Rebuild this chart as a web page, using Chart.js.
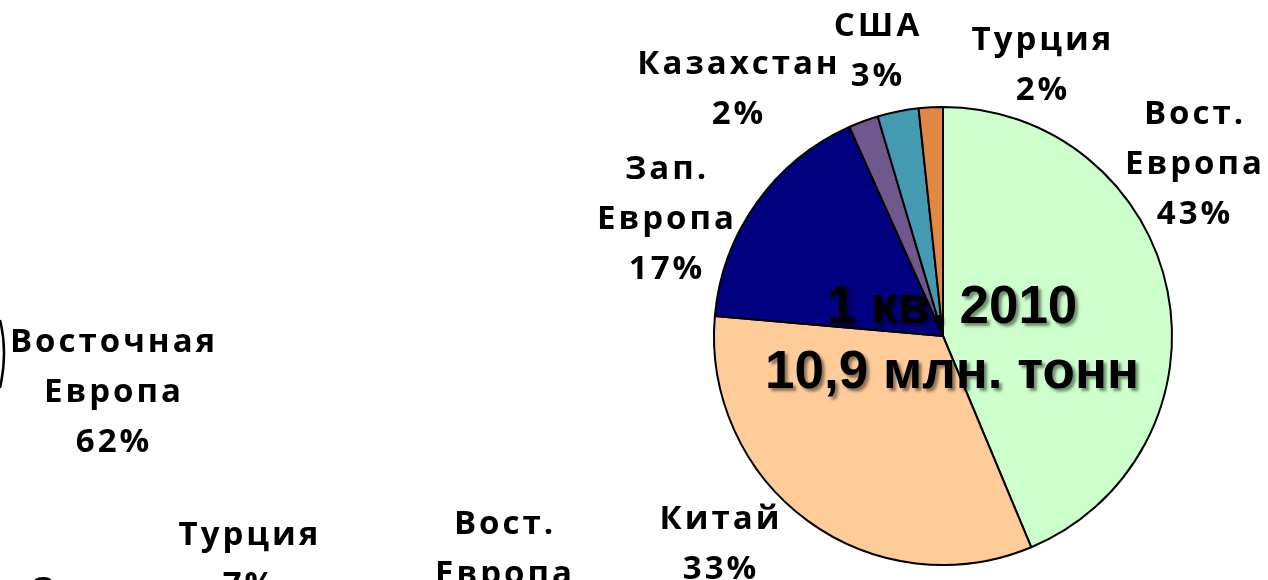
<!DOCTYPE html>
<html>
<head>
<meta charset="utf-8">
<script src="https://cdn.jsdelivr.net/npm/chart.js@4.4.1/dist/chart.umd.min.js"></script>
<style>
	html, body { margin: 0; padding: 0; background: #fff; }
	#wrap { width: 1268px; height: 580px; }
</style>
</head>
<body>
<div id="wrap"><canvas id="pieChart"></canvas></div>
<script>
// Структура по регионам, 1 кв. 2010
var regions = ['Вост. Европа', 'Китай', 'Зап. Европа', 'Казахстан', 'США', 'Турция'];
var nameLines = [['Вост.', 'Европа'], ['Китай'], ['Зап.', 'Европа'], ['Казахстан'], ['США'], ['Турция']];
var shares = [43.7, 32.7, 16.9, 2.1, 2.9, 1.7];
var pctLabels = ['43%', '33%', '17%', '2%', '3%', '2%'];
var centerTitle = ['1 кв. 2010', '10,9 млн. тонн'];

// Подписи соседней (обрезанной) диаграммы
var otherNames = [['Восточная', 'Европа'], ['Турция'], ['Вост.', 'Европа'], ['Зап.']];
var otherPct = ['62%', '7%', '', ''];

var sliceColors = ['#CCFFCC', '#FFCC99', '#000080', '#70588C', '#449AB0', '#E08844'];

// Смещения подписей от центра круга (первая строка)
var labelOffs = [[252, -224], [-222, 181], [-276, -169], [-204, -274], [-65, -312], [100, -298]];
var otherPos = [[114, 340], [250, 533], [505, 522], [75, 588]];

var LINE_H = 50;
var LABEL_FONT = 'bold 33px "Open Sans"';

function drawLines(ctx, lines, x, y) {
	for (var i = 0; i < lines.length; i++) {
		if (lines[i] === '') continue;
		ctx.fillText(lines[i], x, y + i * LINE_H + 12);
	}
}

var labelsPlugin = {
	id: 'excelLabels',
	afterDatasetsDraw: function(chart) {
		var ctx = chart.ctx;
		var meta = chart.getDatasetMeta(0);
		var cx = meta.data[0].x;
		var cy = meta.data[0].y;

		ctx.save();
		ctx.font = LABEL_FONT;
		ctx.letterSpacing = '3px';
		ctx.fillStyle = '#000';
		ctx.textAlign = 'center';
		ctx.textBaseline = 'alphabetic';
		for (var i = 0; i < regions.length; i++) {
			var lines = nameLines[i].concat([pctLabels[i]]);
			drawLines(ctx, lines, cx + labelOffs[i][0], cy + labelOffs[i][1]);
		}
		for (var j = 0; j < otherNames.length; j++) {
			drawLines(ctx, otherNames[j].concat([otherPct[j]]), otherPos[j][0], otherPos[j][1]);
		}
		ctx.restore();

		// край соседнего круга у левой кромки
		ctx.save();
		ctx.strokeStyle = '#000';
		ctx.lineWidth = 2.5;
		ctx.beginPath();
		ctx.moveTo(0, 320);
		ctx.quadraticCurveTo(8, 352, 0, 388);
		ctx.stroke();
		ctx.restore();

		// заголовок в центре
		ctx.save();
		ctx.font = 'bold 53px "Liberation Sans", Arial, sans-serif';
		ctx.textAlign = 'center';
		ctx.textBaseline = 'alphabetic';
		ctx.fillStyle = '#000';
		ctx.shadowColor = 'rgba(0,0,0,0.45)';
		ctx.shadowOffsetX = 3;
		ctx.shadowOffsetY = 3;
		ctx.shadowBlur = 3;
		ctx.fillText(centerTitle[0], cx + 9, cy - 13);
		ctx.fillText(centerTitle[1], cx + 9, cy + 52);
		ctx.restore();
	}
};

var ctx = document.getElementById('pieChart').getContext('2d');
var chart = new Chart(ctx, {
	type: 'pie',
	data: {
		labels: regions,
		datasets: [{
			data: shares,
			backgroundColor: sliceColors,
			borderColor: '#000',
			borderWidth: 2
		}]
	},
	options: {
		responsive: true,
		maintainAspectRatio: false,
		animation: false,
		layout: { padding: { left: 713, right: 95, top: 106, bottom: 14 } },
		plugins: {
			legend: { display: false },
			tooltip: { enabled: false }
		}
	},
	plugins: [labelsPlugin]
});
</script>
</body>
</html>
